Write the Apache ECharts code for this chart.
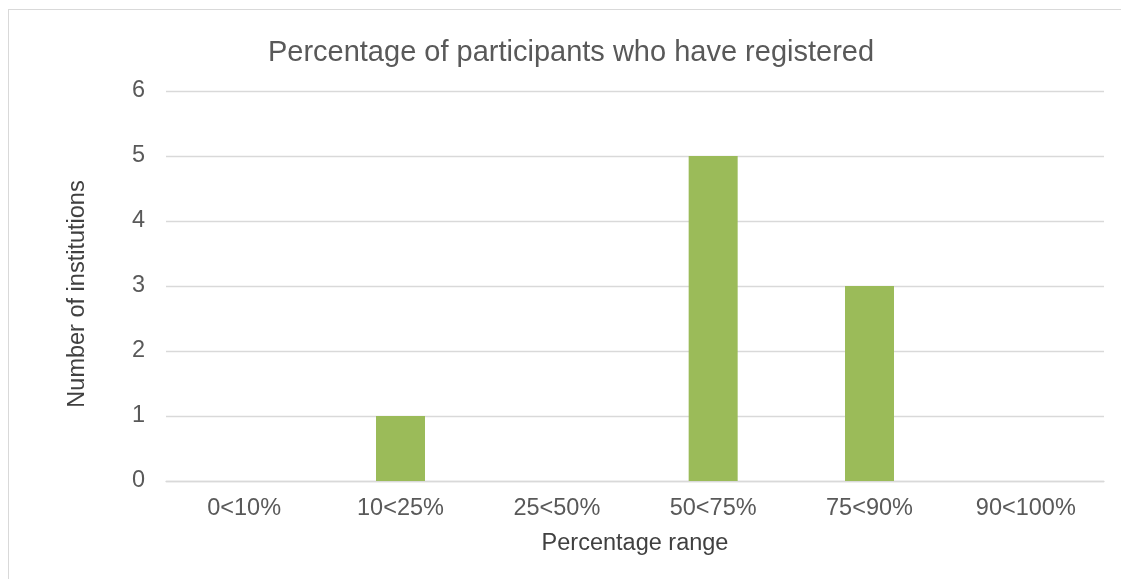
<!DOCTYPE html>
<html>
<head>
<meta charset="utf-8">
<script src="https://cdn.jsdelivr.net/npm/echarts@6/dist/echarts.min.js"></script>
<style>
html,body{margin:0;padding:0;background:#fff;}
#frame{position:absolute;left:8px;top:9px;width:1200px;height:700px;border:1.5px solid #d9d9d9;box-sizing:border-box;}
#chart{position:absolute;left:0;top:0;width:1121px;height:579px;}
</style>
</head>
<body>
<div id="frame"></div>
<div id="chart"></div>
<script>
const titleText = "Percentage of participants who have registered";
const categories = ["0<10%", "10<25%", "25<50%", "50<75%", "75<90%", "90<100%"];
const counts = [0, 1, 0, 5, 3, 0];
const xAxisName = "Percentage range";
const yAxisName = "Number of institutions";

const chart = echarts.init(document.getElementById('chart'), null, {renderer: 'canvas'});
const font = 'Liberation Sans, Arial, sans-serif';
chart.setOption({
  animation: false,
  backgroundColor: 'transparent',
  title: {
    text: titleText,
    left: 566, top: 33,
    textAlign: 'center',
    textStyle: {fontFamily: font, fontSize: 29, fontWeight: 'normal', color: '#595959'}
  },
  grid: {left: 166, right: 17, top: 91, bottom: 98, containLabel: false},
  xAxis: {
    type: 'category',
    data: categories,
    name: xAxisName,
    nameLocation: 'middle',
    nameGap: 51,
    nameTextStyle: {fontFamily: font, fontSize: 23.5, color: '#404040'},
    axisLine: {show: true, lineStyle: {color: '#d9d9d9', width: 1.3}},
    axisTick: {show: false},
    axisLabel: {fontFamily: font, fontSize: 23.5, color: '#595959', margin: 16}
  },
  yAxis: {
    type: 'value',
    min: 0, max: 6, interval: 1,
    name: yAxisName,
    nameLocation: 'middle',
    nameGap: 76,
    nameRotate: 90,
    nameTextStyle: {fontFamily: font, fontSize: 23.5, color: '#404040', padding: [0, 16, 0, 0]},
    axisLine: {show: false},
    axisTick: {show: false},
    axisLabel: {fontFamily: font, fontSize: 23.5, color: '#595959', margin: 21},
    splitLine: {lineStyle: {color: '#d9d9d9', width: 1.3}}
  },
  series: [{
    type: 'bar',
    data: counts,
    barWidth: 49,
    itemStyle: {color: '#9BBB59'}
  }]
});
</script>
</body>
</html>
